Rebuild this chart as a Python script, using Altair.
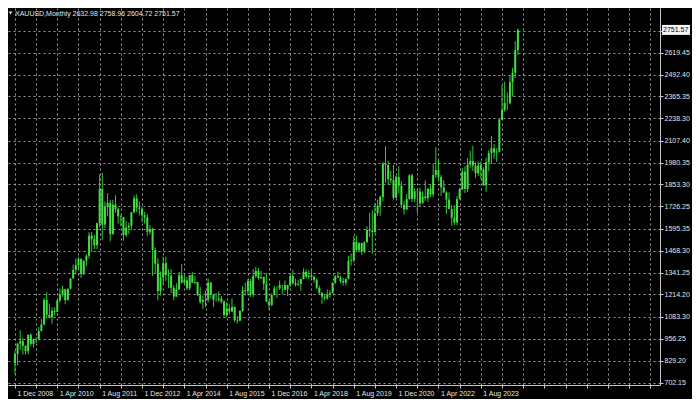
import altair as alt
import pandas as pd

symbol = "XAUUSD,Monthly"

# Monthly OHLC, Dec 2008 .. Oct 2024
opens = [
    816, 869, 928, 942, 916, 884, 979, 927, 954, 955, 1001, 1040, 1182,
    1096, 1081, 1118, 1113, 1180, 1213, 1244, 1181, 1248, 1307, 1357, 1385,
    1421, 1333, 1410, 1439, 1556, 1536, 1500, 1628, 1828, 1620, 1722, 1746,
    1565, 1737, 1710, 1669, 1664, 1560, 1604, 1614, 1692, 1772, 1719, 1712,
    1675, 1663, 1578, 1595, 1472, 1393, 1234, 1313, 1396, 1327, 1323, 1253,
    1202, 1244, 1326, 1284, 1296, 1250, 1327, 1282, 1287, 1210, 1171, 1182,
    1184, 1283, 1213, 1183, 1183, 1190, 1172, 1095, 1133, 1115, 1142, 1065,
    1061, 1118, 1238, 1233, 1293, 1214, 1322, 1351, 1309, 1316, 1277, 1173,
    1152, 1211, 1249, 1249, 1269, 1268, 1242, 1269, 1322, 1280, 1271, 1275,
    1303, 1345, 1318, 1325, 1316, 1299, 1253, 1224, 1201, 1192, 1215, 1222,
    1282, 1321, 1313, 1292, 1283, 1305, 1409, 1413, 1520, 1472, 1513, 1464,
    1517, 1589, 1585, 1577, 1686, 1730, 1781, 1975, 1967, 1886, 1879, 1776,
    1898, 1847, 1734, 1708, 1769, 1906, 1770, 1814, 1813, 1743, 1783, 1774,
    1829, 1796, 1909, 1937, 1897, 1837, 1807, 1766, 1711, 1660, 1633, 1768,
    1824, 1928, 1827, 1969, 1990, 1963, 1919, 1965, 1940, 1849, 1983, 2036,
    2063, 2039, 2044, 2230, 2286, 2327, 2326, 2447, 2503, 2632.98,
]
highs = [
    889, 934, 1006, 962, 918, 983, 990, 960, 966, 1025, 1072, 1195, 1227,
    1162, 1140, 1139, 1183, 1249, 1265, 1245, 1248, 1307, 1388, 1424, 1432,
    1424, 1412, 1448, 1576, 1577, 1561, 1632, 1912, 1921, 1756, 1803, 1764,
    1764, 1791, 1720, 1677, 1666, 1641, 1632, 1692, 1790, 1796, 1755, 1723,
    1694, 1683, 1617, 1601, 1488, 1424, 1348, 1434, 1434, 1361, 1361, 1267,
    1280, 1345, 1392, 1332, 1315, 1326, 1346, 1322, 1288, 1256, 1208, 1238,
    1307, 1287, 1219, 1224, 1232, 1205, 1182, 1170, 1157, 1192, 1143, 1088,
    1124, 1263, 1283, 1303, 1304, 1362, 1375, 1368, 1352, 1317, 1338, 1180,
    1220, 1264, 1262, 1295, 1270, 1296, 1270, 1331, 1357, 1306, 1299, 1306,
    1366, 1361, 1356, 1365, 1326, 1309, 1266, 1226, 1214, 1243, 1237, 1285,
    1326, 1347, 1324, 1310, 1306, 1439, 1453, 1555, 1557, 1517, 1515, 1524,
    1611, 1689, 1704, 1748, 1765, 1789, 1984, 2075, 1992, 1933, 1966, 1906,
    1959, 1872, 1756, 1798, 1913, 1917, 1832, 1832, 1835, 1814, 1877, 1831,
    1853, 1974, 2070, 1998, 1910, 1879, 1814, 1808, 1735, 1730, 1786, 1833,
    1949, 1959, 2009, 2049, 2079, 1983, 1988, 1987, 1953, 2009, 2052, 2135,
    2088, 2065, 2236, 2431, 2450, 2388, 2484, 2531, 2686, 2758.96,
]
lows = [
    752, 802, 891, 865, 865, 867, 915, 905, 932, 947, 1000, 1034, 1074,
    1076, 1044, 1088, 1113, 1166, 1200, 1157, 1179, 1242, 1308, 1330, 1361,
    1309, 1327, 1380, 1421, 1462, 1478, 1478, 1604, 1532, 1600, 1668, 1523,
    1562, 1689, 1627, 1611, 1527, 1549, 1565, 1588, 1684, 1692, 1673, 1635,
    1626, 1555, 1562, 1321, 1338, 1180, 1208, 1271, 1292, 1251, 1221, 1181,
    1200, 1238, 1277, 1268, 1240, 1240, 1282, 1273, 1206, 1160, 1131, 1142,
    1167, 1191, 1142, 1170, 1170, 1162, 1077, 1080, 1099, 1112, 1053, 1046,
    1062, 1111, 1208, 1210, 1200, 1200, 1310, 1301, 1305, 1241, 1171, 1122,
    1147, 1207, 1195, 1241, 1214, 1237, 1205, 1258, 1271, 1261, 1264, 1236,
    1302, 1307, 1303, 1302, 1282, 1245, 1211, 1160, 1180, 1182, 1196, 1221,
    1276, 1310, 1281, 1266, 1267, 1301, 1382, 1400, 1459, 1459, 1445, 1453,
    1517, 1548, 1451, 1568, 1670, 1671, 1757, 1863, 1849, 1860, 1764, 1775,
    1802, 1717, 1677, 1705, 1766, 1751, 1751, 1688, 1722, 1746, 1758, 1753,
    1780, 1781, 1890, 1872, 1787, 1805, 1681, 1709, 1615, 1617, 1617, 1766,
    1823, 1804, 1810, 1950, 1932, 1893, 1903, 1885, 1846, 1810, 1931, 1973,
    2002, 1984, 2039, 2229, 2277, 2287, 2319, 2364, 2472, 2604.72,
]
closes = [
    869, 928, 942, 916, 884, 979, 927, 954, 955, 1001, 1040, 1182, 1096,
    1081, 1118, 1113, 1180, 1213, 1244, 1181, 1248, 1307, 1357, 1385, 1421,
    1333, 1410, 1439, 1556, 1536, 1500, 1628, 1828, 1620, 1722, 1746, 1565,
    1737, 1710, 1669, 1664, 1560, 1604, 1614, 1692, 1772, 1719, 1712, 1675,
    1663, 1578, 1595, 1472, 1393, 1234, 1313, 1396, 1327, 1323, 1253, 1202,
    1244, 1326, 1284, 1296, 1250, 1327, 1282, 1287, 1210, 1171, 1182, 1184,
    1283, 1213, 1183, 1183, 1190, 1172, 1095, 1133, 1115, 1142, 1065, 1061,
    1118, 1238, 1233, 1293, 1214, 1322, 1351, 1309, 1316, 1277, 1173, 1152,
    1211, 1249, 1249, 1269, 1268, 1242, 1269, 1322, 1280, 1271, 1275, 1303,
    1345, 1318, 1325, 1316, 1299, 1253, 1224, 1201, 1192, 1215, 1222, 1282,
    1321, 1313, 1292, 1283, 1305, 1409, 1413, 1520, 1472, 1513, 1464, 1517,
    1589, 1585, 1577, 1686, 1730, 1781, 1975, 1967, 1886, 1879, 1776, 1898,
    1847, 1734, 1708, 1769, 1906, 1770, 1814, 1813, 1743, 1783, 1774, 1829,
    1796, 1909, 1937, 1897, 1837, 1807, 1766, 1711, 1660, 1633, 1768, 1824,
    1928, 1827, 1969, 1990, 1963, 1919, 1965, 1940, 1849, 1983, 2036, 2063,
    2039, 2044, 2230, 2286, 2327, 2326, 2447, 2503, 2634, 2751.57,
]

x_label_pos = [0, 16, 32, 48, 64, 80, 96, 112, 128, 144, 160, 176]
x_labels = ["1 Dec 2008", "1 Apr 2010", "1 Aug 2011", "1 Dec 2012",
            "1 Apr 2014", "1 Aug 2015", "1 Dec 2016", "1 Apr 2018",
            "1 Aug 2019", "1 Dec 2020", "1 Apr 2022", "1 Aug 2023"]
x_grid = list(range(0, 241, 8))
y_ticks = [702.15, 829.20, 956.25, 1083.30, 1214.20, 1341.25, 1468.30,
           1595.35, 1726.25, 1853.30, 1980.35, 2107.40, 2238.30, 2365.35,
           2492.40, 2619.45, 2746.50]

W, H = 652, 377
FONT = "Liberation Sans"
GREEN = "#34c934"
GREEN_BODY = "#45dc45"
TXT = "#e4e4e4"
GRID = "#9c9c9c"
BORDER = "#c8c8c8"

df = pd.DataFrame({
    "idx": list(range(len(closes))),
    "open": opens, "high": highs, "low": lows, "close": closes,
})
last = df.tail(1)
title_text = "{}  {:.2f} {:.2f} {:.2f} {:.2f}".format(
    symbol, opens[-1], highs[-1], lows[-1], closes[-1])
title_df = pd.DataFrame({"t": [title_text]})

pos_arr = "[" + ",".join(str(p) for p in x_label_pos) + "]"
lab_arr = "[" + ",".join("'" + s + "'" for s in x_labels) + "]"
x_label_expr = f"indexof({pos_arr}, datum.value) >= 0 ? {lab_arr}[indexof({pos_arr}, datum.value)] : ''"

xscale = alt.Scale(domain=[-0.73, 241.8], nice=False, zero=False)
yscale = alt.Scale(domain=[688.1, 2878.9], nice=False, zero=False)

xaxis = alt.Axis(
    values=x_grid, title=None, grid=True, gridColor=GRID, gridDash=[2, 3],
    gridWidth=1, labelExpr=x_label_expr, labelColor=TXT, labelFont=FONT,
    labelFontSize=7, labelAlign="left", labelPadding=1, labelOffset=2,
    labelOverlap=False, labelFlush=False, tickSize=3, tickColor=BORDER,
    domainColor=BORDER,
)
yaxis = alt.Axis(
    orient="right", values=y_ticks, title=None, grid=True, gridColor=GRID,
    gridDash=[2, 3], gridWidth=1,
    labelExpr="datum.value > 2700 ? '' : format(datum.value, '.2f')",
    labelColor=TXT, labelFont=FONT, labelFontSize=7, labelPadding=1,
    labelOverlap=False, labelFlush=False, tickSize=3, tickColor=BORDER,
    domainColor=BORDER,
)

base = alt.Chart(df)
wick = base.mark_rule(color=GREEN, strokeWidth=1).encode(
    x=alt.X("idx:Q", scale=xscale, axis=xaxis),
    y=alt.Y("low:Q", scale=yscale, axis=yaxis),
    y2="high:Q",
)
body = base.mark_bar(size=2, color=GREEN_BODY).encode(
    x=alt.X("idx:Q", scale=xscale, axis=xaxis),
    y=alt.Y("open:Q", scale=yscale, axis=yaxis),
    y2="close:Q",
)
price_box = alt.Chart(last).mark_tick(
    orient="horizontal", size=28, thickness=10, color="#f4f4f4", opacity=1
).encode(
    x=alt.value(W + 16),
    y=alt.Y("close:Q", scale=yscale, axis=yaxis),
)
price_text = alt.Chart(last).mark_text(
    align="left", baseline="middle", fontSize=7, font=FONT, color="black"
).encode(
    x=alt.value(W + 3),
    y=alt.Y("close:Q", scale=yscale, axis=yaxis),
    text=alt.Text("close:Q", format=".2f"),
)
title_mark = alt.Chart(title_df).mark_text(
    align="left", baseline="top", fontSize=7, font=FONT, color=TXT
).encode(x=alt.value(7), y=alt.value(2), text="t:N")
tri = alt.Chart(title_df).mark_point(
    shape="triangle-down", filled=True, size=14, color=TXT, opacity=1
).encode(x=alt.value(2.5), y=alt.value(5))

chart = alt.layer(wick, body, price_box, price_text, title_mark, tri).properties(
    width=W, height=H, background="#000000",
    padding={"left": 0, "top": 0, "right": 32, "bottom": 14},
    autosize=alt.AutoSizeParams(type="none"),
).configure_view(stroke=None)

chart.save("out.html", embed_options={"renderer": "svg", "actions": False})
